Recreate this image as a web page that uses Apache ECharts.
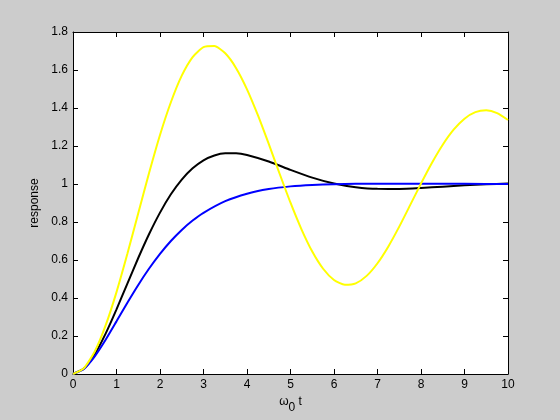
<!DOCTYPE html>
<html>
<head>
<meta charset="utf-8">
<script src="https://cdn.jsdelivr.net/npm/echarts@6/dist/echarts.min.js"></script>
<style>
html,body{margin:0;padding:0;background:#cccccc;}
#chart{width:560px;height:420px;}
</style>
</head>
<body>
<div id="chart"></div>
<script>
// time values and responses
var tYellow = [0,0.25,0.5,0.75,1,1.25,1.5,1.75,2,2.25,2.5,2.75,3,3.25,3.5,3.75,4,4.25,4.5,4.75,5,5.25,5.5,5.75,6,6.25,6.5,6.75,7,7.25,7.5,7.75,8,8.25,8.5,8.75,9,9.25,9.5,9.75,10];
var yellowResp = [0,0.0306,0.1184,0.2556,0.4310,0.6324,0.8464,1.0592,1.2583,1.4303,1.5702,1.6682,1.7201,1.7262,1.6878,1.6097,1.4984,1.3621,1.2108,1.0539,0.9014,0.7628,0.6445,0.5540,0.4949,0.4693,0.4772,0.5164,0.5830,0.6716,0.7757,0.8886,1.0026,1.1108,1.2069,1.2860,1.3439,1.3782,1.3877,1.3732,1.3369];

var tBlack = [0,0.25,0.5,0.75,1,1.25,1.5,1.75,2,2.25,2.5,2.75,3,3.25,3.5,3.75,4,4.5,5,5.5,6,6.5,7,7.5,8,8.5,9,9.5,10];
var blackResp = [0,0.0286,0.1044,0.2127,0.3402,0.4760,0.6105,0.7367,0.8494,0.9457,1.0233,1.0823,1.1246,1.1500,1.1616,1.1619,1.1531,1.1185,1.0746,1.0336,1.0023,0.9828,0.9744,0.9742,0.9790,0.9860,0.9929,0.9985,1.0022];

var tBlue = [0,0.25,0.5,0.75,1,1.25,1.5,1.75,2,2.25,2.5,2.75,3,3.5,4,4.5,5,5.5,6,7,8,9,10];
var blueResp = [0,0.0269,0.0928,0.1802,0.2770,0.3750,0.4687,0.5550,0.6323,0.7001,0.7583,0.8075,0.8485,0.9097,0.9491,0.9734,0.9875,0.9953,0.9992,1.0015,1.0012,1.0007,1.0003];

var xLabelName = '\u03c9';
var yLabelName = 'response';

function pairs(t, v){ return t.map(function(x,i){ return [x, v[i]]; }); }

var FONT = "'Liberation Sans', Arial, Helvetica, sans-serif";
var chart = echarts.init(document.getElementById('chart'), null, {renderer:'canvas'});

var axisBase = {
  type:'value',
  axisLine:{show:true, onZero:false, lineStyle:{color:'#000', width:1}},
  axisTick:{show:true, inside:true, length:5, lineStyle:{color:'#000'}},
  splitLine:{show:false},
  axisLabel:{color:'#000', fontSize:12, fontFamily:FONT}
};
function ax(extra){ return Object.assign(JSON.parse(JSON.stringify(axisBase)), extra); }

var xCommon = {min:0, max:10, interval:1};
var yCommon = {min:0, max:1.8, interval:0.2};

chart.setOption({
  animation:false,
  backgroundColor:'#cccccc',
  grid:{left:73, right:52, top:32, bottom:46, show:true, backgroundColor:'#ffffff', borderWidth:0},
  xAxis:[
    ax(Object.assign({position:'bottom',
      name:'{w|' + xLabelName + '}{s|0}{w| t}',
      nameLocation:'middle', nameGap:22,
      nameTextStyle:{color:'#000', fontFamily:FONT, rich:{
        w:{fontSize:12, fontFamily:FONT, color:'#000', padding:[0,0,6,0]},
        s:{fontSize:12, fontFamily:FONT, color:'#000', padding:[6,0,0,0]}
      }},
      axisLabel:{color:'#000', fontSize:12, fontFamily:FONT, margin:5}
    }, xCommon)),
    ax(Object.assign({position:'top', axisLabel:{show:false}}, xCommon))
  ],
  yAxis:[
    ax(Object.assign({position:'left',
      name:yLabelName, nameLocation:'middle', nameGap:30,
      nameTextStyle:{color:'#000', fontSize:12, fontFamily:FONT},
      axisLabel:{color:'#000', fontSize:12, fontFamily:FONT, margin:5}
    }, yCommon)),
    ax(Object.assign({position:'right', axisLabel:{show:false}}, yCommon))
  ],
  series:[
    {type:'line', data:pairs(tBlack, blackResp), showSymbol:false, smooth:0.2,
     lineStyle:{color:'#000000', width:2}, itemStyle:{color:'#000000'}},
    {type:'line', data:pairs(tBlue, blueResp), showSymbol:false, smooth:0.2,
     lineStyle:{color:'#0000ff', width:2}, itemStyle:{color:'#0000ff'}},
    {type:'line', data:pairs(tYellow, yellowResp), showSymbol:false, smooth:0.2,
     lineStyle:{color:'#ffff00', width:2}, itemStyle:{color:'#ffff00'}}
  ]
});
</script>
</body>
</html>
